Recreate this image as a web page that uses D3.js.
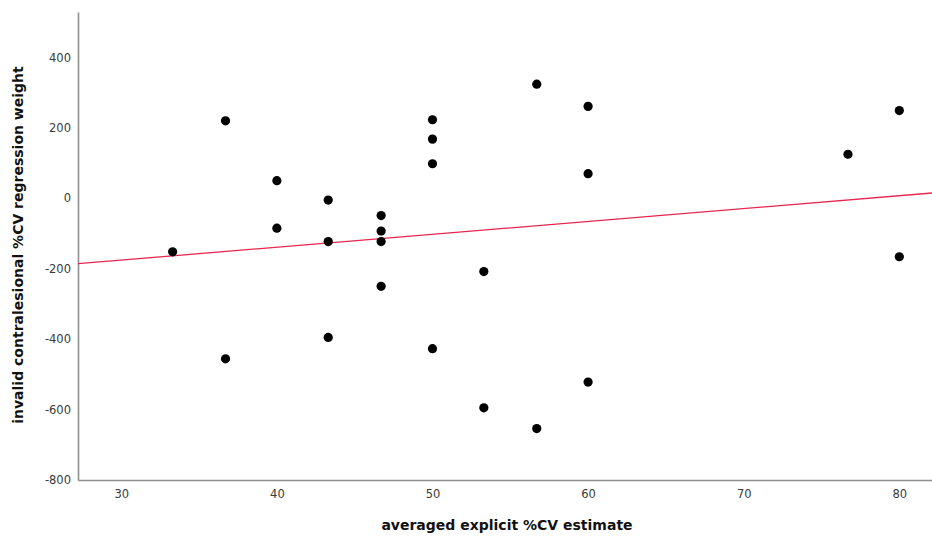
<!DOCTYPE html>
<html>
<head>
<meta charset="utf-8">
<script src="https://cdn.jsdelivr.net/npm/d3@7"></script>
<style>
  html, body { margin: 0; padding: 0; background: #fff; }
  svg { display: block; }
</style>
</head>
<body>
<svg id="chart" width="932" height="536"></svg>
<script>
// Averaged explicit %CV estimate per participant
const explicitEstimate = [
  33.3,
  36.7, 36.7,
  40, 40,
  43.3, 43.3, 43.3,
  46.7, 46.7, 46.7, 46.7,
  50, 50, 50, 50,
  53.3, 53.3,
  56.7, 56.7,
  60, 60, 60,
  76.7,
  80, 80
];
// Invalid contralesional %CV regression weight per participant
const regressionWeight = [
  -152,
  220, -456,
  50, -85,
  -5, -123, -395,
  -49, -93, -123, -250,
  223, 168, 98, -427,
  -208, -595,
  324, -654,
  261, 70, -522,
  125,
  249, -166
];
const xTicks = [30, 40, 50, 60, 70, 80];
const yTicks = [-800, -600, -400, -200, 0, 200, 400];
const xDomain = [27.22, 82.1];
const yDomain = [-800, 529];

const svg = d3.select("#chart");
const plotLeft = 78, plotRight = 932, plotTop = 12, plotBottom = 480;

const x = d3.scaleLinear().domain(xDomain).range([plotLeft, plotRight]);
const y = d3.scaleLinear().domain(yDomain).range([plotBottom, plotTop]);

// Axes: plain grey lines with labels, no tick marks; plain hyphen for negatives
const axisColor = "#8f8f8f";
const plainNumber = d => String(d);
const xAxis = svg.append("g").attr("transform", `translate(0,${plotBottom})`)
  .call(d3.axisBottom(x).tickValues(xTicks).tickSize(0).tickPadding(10).tickFormat(plainNumber));
const yAxis = svg.append("g").attr("transform", `translate(${plotLeft},0)`)
  .call(d3.axisLeft(y).tickValues(yTicks).tickSize(0).tickPadding(7).tickFormat(plainNumber));

[xAxis, yAxis].forEach(g => {
  g.select(".domain").attr("stroke", axisColor).attr("stroke-width", 1.6);
  g.selectAll("text")
    .attr("fill", "#3a3a3a")
    .style("font-family", "'DejaVu Sans', sans-serif")
    .style("font-size", "11.5px");
});

// Axis titles
svg.append("text")
  .attr("x", (plotLeft + plotRight) / 2 + 2)
  .attr("y", 530)
  .attr("text-anchor", "middle")
  .style("font-family", "'DejaVu Sans', sans-serif")
  .style("font-weight", "bold")
  .style("font-size", "14px")
  .attr("fill", "#111")
  .text("averaged explicit %CV estimate");

svg.append("text")
  .attr("transform", `translate(23,245) rotate(-90)`)
  .attr("text-anchor", "middle")
  .style("font-family", "'DejaVu Sans', sans-serif")
  .style("font-weight", "bold")
  .style("font-size", "14px")
  .attr("fill", "#111")
  .text("invalid contralesional %CV regression weight");

// Least-squares fit line across the full x range
const n = explicitEstimate.length;
const mx = d3.mean(explicitEstimate), my = d3.mean(regressionWeight);
let sxy = 0, sxx = 0;
for (let i = 0; i < n; i++) {
  sxy += (explicitEstimate[i] - mx) * (regressionWeight[i] - my);
  sxx += (explicitEstimate[i] - mx) ** 2;
}
const slope = sxy / sxx, intercept = my - slope * mx;
const fit = xDomain.map(v => [v, intercept + slope * v]);

svg.append("path")
  .datum(fit)
  .attr("d", d3.line().x(d => x(d[0])).y(d => y(d[1])))
  .attr("fill", "none")
  .attr("stroke", "#e8264f")
  .attr("stroke-width", 1.3);

// Data points
svg.append("g").selectAll("circle")
  .data(explicitEstimate.map((v, i) => [v, regressionWeight[i]]))
  .join("circle")
  .attr("cx", d => x(d[0]))
  .attr("cy", d => y(d[1]))
  .attr("r", 4.6)
  .attr("fill", "#000");
</script>
</body>
</html>
